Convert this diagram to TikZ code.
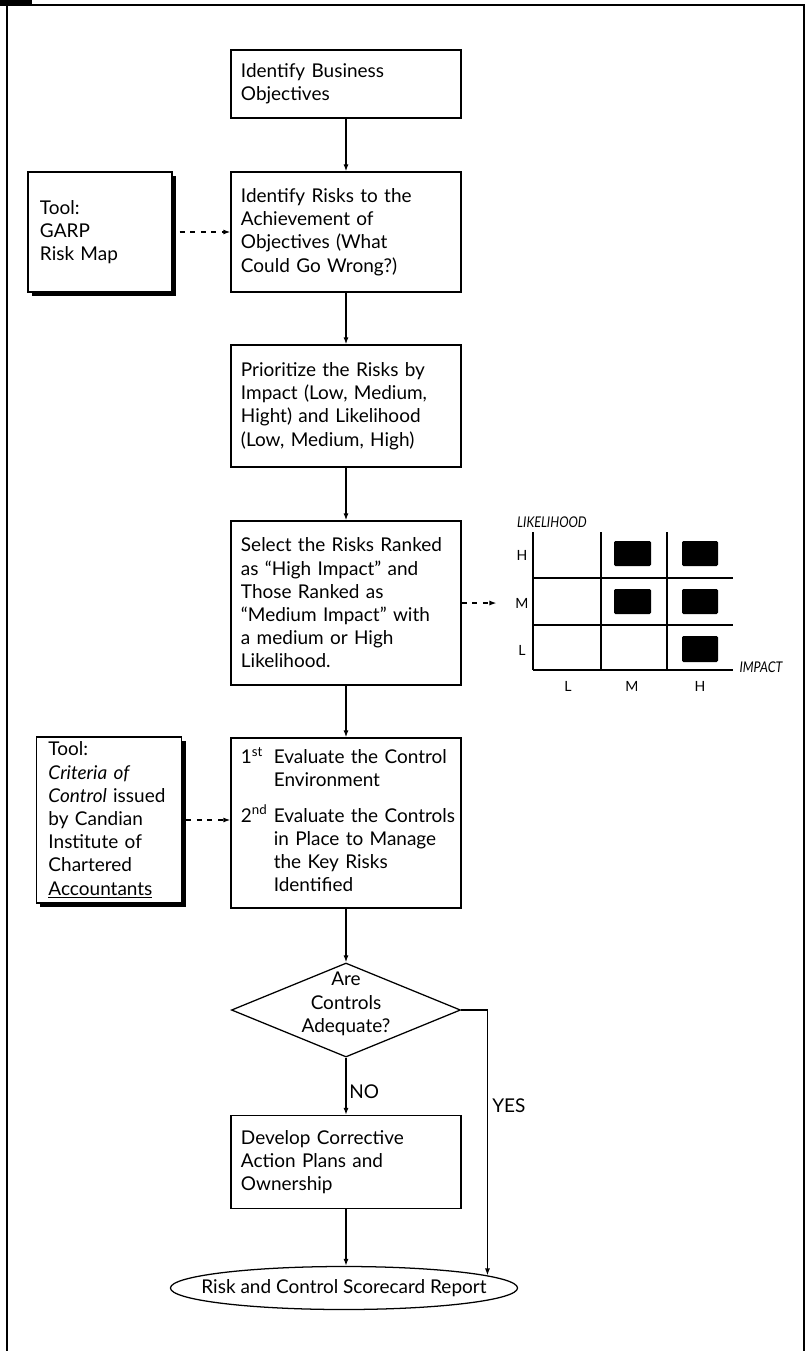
\documentclass[tikz,border=0pt]{standalone}
\usepackage{fontspec}
\setmainfont{Lato}
\usetikzlibrary{arrows.meta,shapes.geometric,shadows}

\begin{document}
\begin{tikzpicture}[
x=0.025cm, y=-0.025cm,
>={Latex[length=5pt,width=3.6pt]},
every node/.style={font=\fontsize{13.5}{16.5}\selectfont},
stepbox/.style={
    draw,
    line width=0.9pt,
    align=left,
    text width=5.25cm,
    inner xsep=0.25cm,
    minimum width=5.75cm
},
toolbox/.style={
    draw,
    line width=0.9pt,
    fill=white,
    align=left,
    inner xsep=0.3cm,
    drop shadow={shadow xshift=0.1cm, shadow yshift=-0.1cm, opacity=1, fill=black}
},
flow/.style={->, line width=0.9pt},
toolflow/.style={->, line width=0.9pt, dash pattern=on 3.5pt off 4pt},
matrixline/.style={draw, line width=1pt},
cell/.style={fill=black, rounded corners=1pt},
ticklabel/.style={font=\fontsize{10}{11}\selectfont},
axislabel/.style={font=\fontsize{10.5}{11}\selectfont\itshape}
]

\useasboundingbox (0,0) rectangle (807,1351);

% =====================================================
% Frame
% =====================================================
\draw[line width=1.4pt] (7,1351) -- (7,5) -- (804,5) -- (804,1351);
\fill (0,0) rectangle (32,6);

% =====================================================
% Main flow
% =====================================================
\node[stepbox, minimum height=1.7cm] (objectives) at (346,84)
{Identify Business\\ Objectives};

\node[stepbox, minimum height=3.0cm] (risks) at (346,232)
{Identify Risks to the\\ Achievement of\\ Objectives (What\\ Could Go Wrong?)};

\node[stepbox, minimum height=3.05cm] (prioritize) at (346,406)
{Prioritize the Risks by\\ Impact (Low, Medium,\\ Hight) and Likelihood\\ (Low, Medium, High)};

\node[stepbox, minimum height=4.1cm] (select) at (346,603)
{Select the Risks Ranked\\ as ``High Impact'' and\\ Those Ranked as\\ ``Medium Impact'' with\\ a medium or High\\ Likelihood.};

\node[stepbox, minimum height=4.25cm] (evaluate) at (346,823) {%
\begin{tabular}{@{}p{0.82cm}@{}l@{}}
1\textsuperscript{st} & Evaluate the Control\\
 & Environment\\[8pt]
2\textsuperscript{nd} & Evaluate the Controls\\
 & in Place to Manage\\
 & the Key Risks\\
 & Identified
\end{tabular}};

\node[draw, line width=0.9pt, diamond, aspect=2.44, inner sep=0pt,
minimum width=5.725cm, minimum height=2.35cm] (adequate) at (346,1010) {};
\node[align=center] (adequatetext) at (346,1004) {Are\\ Controls\\ Adequate?};

\node[stepbox, minimum height=2.325cm] (corrective) at (346,1162)
{Develop Corrective\\ Action Plans and\\ Ownership};

\node[draw, line width=0.9pt, ellipse, inner xsep=-23pt, inner ysep=0pt,
minimum width=8.675cm, minimum height=1.075cm] (report) at (344,1288)
{Risk and Control Scorecard Report};

\draw[flow] (objectives) -- (risks);
\draw[flow] (risks) -- (prioritize);
\draw[flow] (prioritize) -- (select);
\draw[flow] (select) -- (evaluate);
\draw[flow] (evaluate) -- (adequate);
\draw[flow] (adequate.south) -- node[right, pos=0.6, inner sep=2pt] {NO} (corrective.north);
\draw[flow] (adequate.east) -| node[right, pos=0.68, inner sep=3pt] {YES} (report.5);
\draw[flow] (corrective) -- (corrective |- report.north);

% =====================================================
% Tools
% =====================================================
\node[toolbox, minimum width=3.6cm, minimum height=3.0cm, text width=3.0cm] (garp) at (100,232)
{Tool:\\ GARP\\ Risk Map};

\node[toolbox, minimum width=3.625cm, minimum height=4.15cm, text width=3.025cm] (criteria) at (109,820)
{Tool:\\ \textit{Criteria of}\\ \textit{Control} issued\\ by Candian\\ Institute of\\ Chartered\\ \underline{Accountants}};

\draw[toolflow, shorten <=5pt] (garp.east) -- (risks.west);
\draw[toolflow, shorten <=3pt] (criteria.east) -- (criteria.east -| evaluate.west);

% =====================================================
% Risk matrix
% =====================================================
\foreach \x in {533,601,667}{
\draw[matrixline] (\x,532) -- (\x,670);
}
\foreach \y in {578,625,670}{
\draw[matrixline] (533,\y) -- (733,\y);
}

% Selected cells
\fill[cell] (614,541) rectangle (651,566);
\fill[cell] (682,541) rectangle (718,566);
\fill[cell] (614,589) rectangle (651,614);
\fill[cell] (682,589) rectangle (718,614);
\fill[cell] (682,636) rectangle (718,662);

\node[ticklabel] (rowH) at (522,555) {H};
\node[ticklabel] (rowM) at (522,603) {M};
\node[ticklabel] (rowL) at (522,650) {L};
\node[ticklabel] (colL) at (568,686) {L};
\node[ticklabel] (colM) at (632,686) {M};
\node[ticklabel] (colH) at (700,686) {H};

\node[axislabel] (likelihood) at (552,522) {\scalebox{0.85}[1]{LIKELIHOOD}};
\node[axislabel] (impact) at (761,667) {\scalebox{0.85}[1]{IMPACT}};

\draw[toolflow, shorten >=10pt] (select.east) -- (rowM.west);

\end{tikzpicture}
\end{document}
